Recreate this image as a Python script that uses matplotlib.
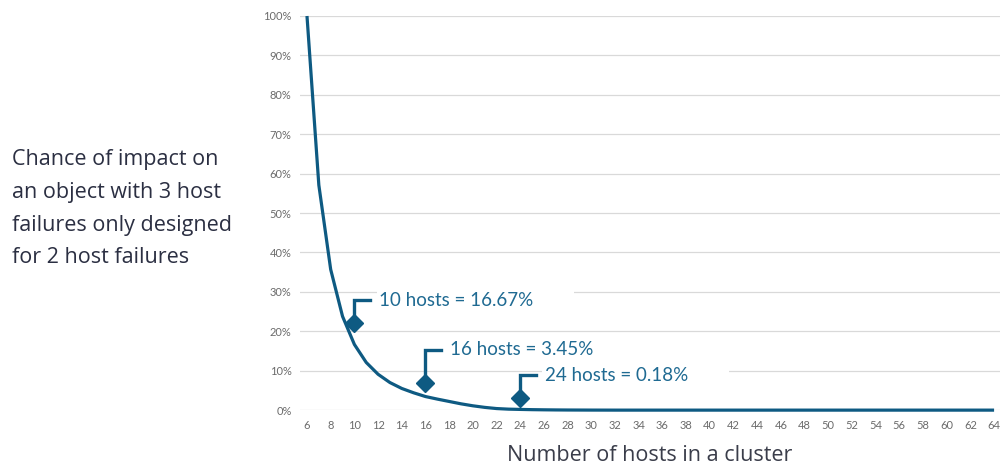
import matplotlib.pyplot as plt
import numpy as np

plt.rcParams['font.family'] = ['Lato', 'DejaVu Sans']

# number of hosts vs. chance of impact (%)
hosts = list(range(6, 65))
impact = [100.0, 57.1, 35.7, 23.8, 16.67, 12.1, 9.1, 7.0, 5.5, 4.4,
          3.45, 2.8, 2.2, 1.6, 1.1, 0.7, 0.4, 0.25, 0.18, 0.12,
          0.08, 0.05, 0.03, 0.02, 0.01, 0.005,
          0, 0, 0, 0, 0, 0, 0, 0, 0, 0,
          0, 0, 0, 0, 0, 0, 0, 0, 0, 0,
          0, 0, 0, 0, 0, 0, 0, 0, 0, 0,
          0, 0, 0]

callout_hosts = [10, 16, 24]
callout_labels = ["10 hosts = 16.67%", "16 hosts = 3.45%", "24 hosts = 0.18%"]

y_ticks = list(range(0, 101, 10))
x_ticks = list(range(6, 65, 2))

line_col = '#0e5a82'
label_col = '#1f6a92'
tick_col = '#6b6b6b'

fig = plt.figure(figsize=(10, 4.65), dpi=100)
ax = fig.add_axes([0.30, 0.118, 0.70, 0.8476])
ax.set_xlim(5.41, 64.5)
ax.set_ylim(0, 100)

# grid
for t in y_ticks:
    ax.axhline(t, color='#d9d9d9', lw=0.9, zorder=0)

ax.plot(hosts, impact, color=line_col, lw=2.3, clip_on=False, zorder=3,
        solid_capstyle='butt')

# callouts (offsets in pixels)
xpp = 1 / 11.845
ypp = 100 / 394.0
lift = [21, 14, 11]
stem = [23, 33, 23]
arm = 16
for h, lab, lf, st in zip(callout_hosts, callout_labels, lift, stem):
    v = impact[hosts.index(h)]
    yd = v + lf * ypp
    yt = yd + st * ypp
    ax.plot([h, h, h + arm * xpp], [yd, yt, yt], color=line_col, lw=2.4,
            zorder=4, solid_joinstyle='miter')
    ax.plot([h], [yd], marker='D', ms=9, color=line_col, zorder=5)
    ax.text(h + (arm + 9) * xpp, yt, lab + "        ", color=label_col,
            fontsize=13.5, va='center', ha='left', zorder=4,
            bbox=dict(facecolor='white', edgecolor='none', pad=2))

for s in ax.spines.values():
    s.set_visible(False)
ax.set_yticks(y_ticks)
ax.set_yticklabels([f"{t}%" for t in y_ticks])
ax.set_xticks(x_ticks)
ax.tick_params(length=0, labelsize=8, labelcolor=tick_col)
ax.tick_params(axis='y', pad=6)
ax.tick_params(axis='x', pad=7)
ax.set_xlabel("Number of hosts in a cluster", fontsize=15.5, color='#3a3d4a',
              labelpad=10, family=['Open Sans', 'DejaVu Sans'])

fig.text(0.012, 0.551,
         "Chance of impact on\nan object with 3 host\nfailures only designed\nfor 2 host failures",
         fontsize=15.5, color='#2b2f42', ha='left', va='center',
         linespacing=1.73, family=['Open Sans', 'DejaVu Sans'])

fig.savefig('out.png', dpi=100)
